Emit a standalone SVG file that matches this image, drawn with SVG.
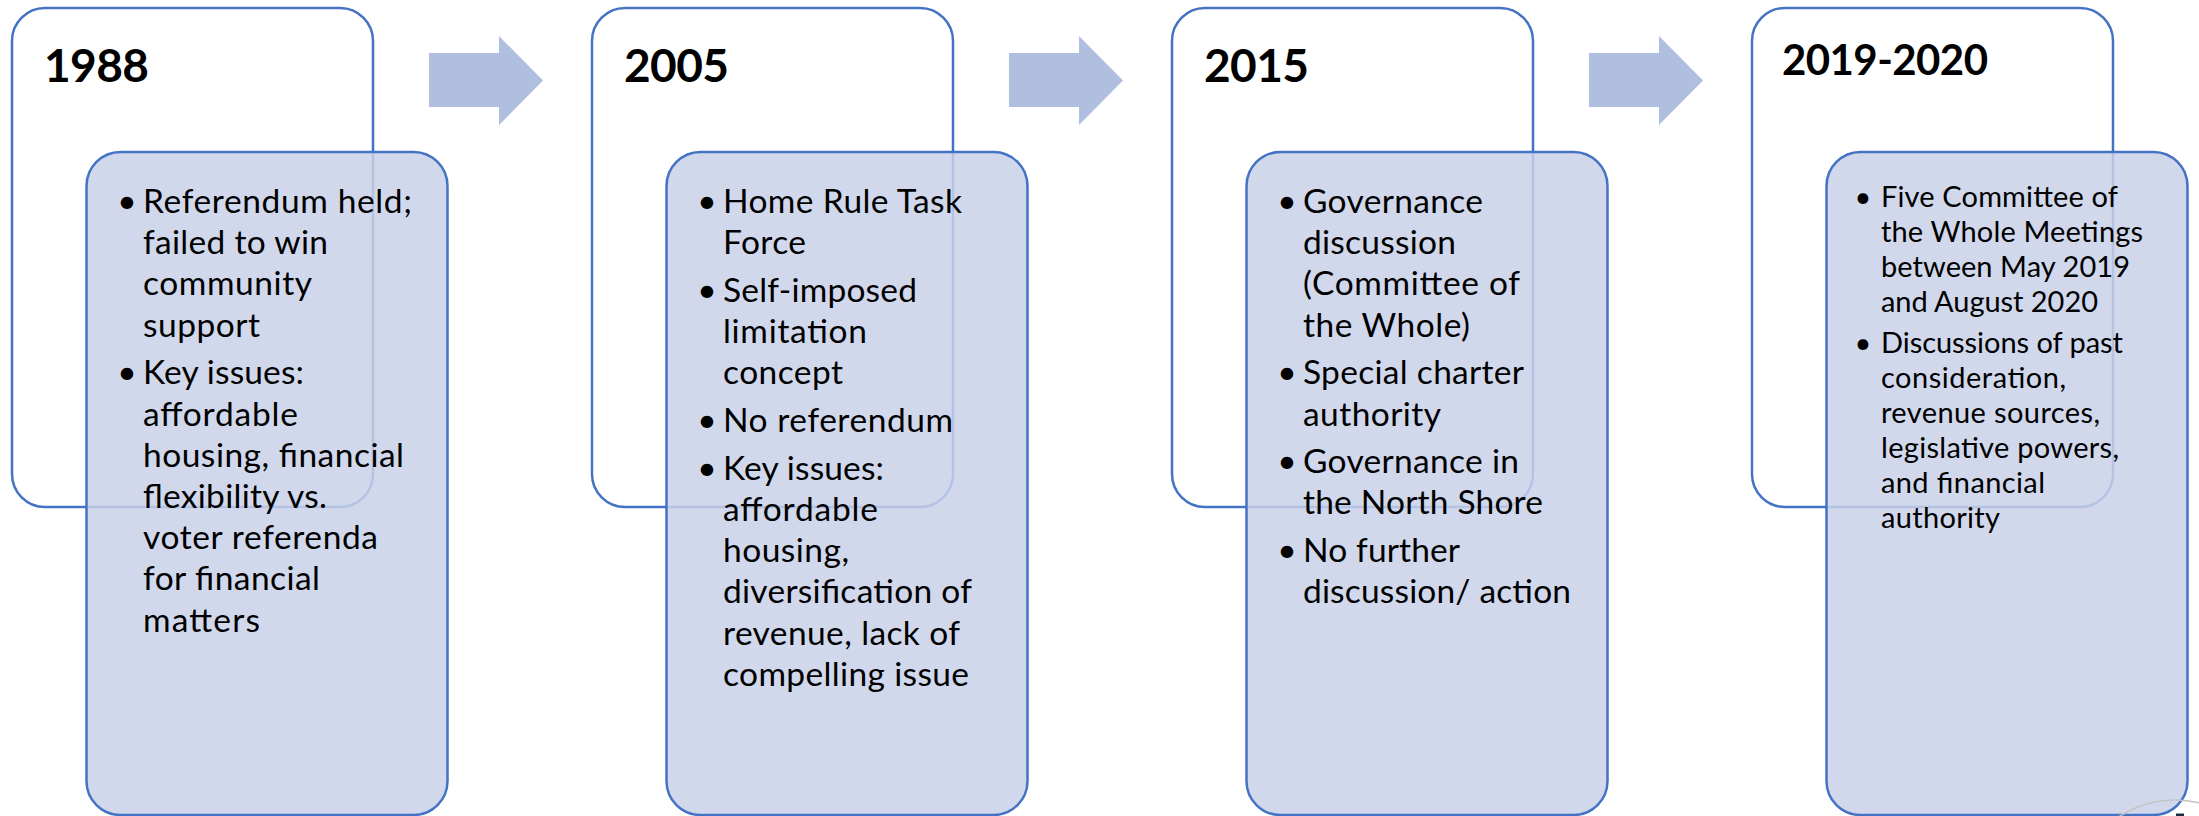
<svg xmlns="http://www.w3.org/2000/svg" width="2199" height="816" viewBox="0 0 2199 816">
  <style>
    .head { fill: #ffffff; stroke: #4472C4; stroke-width: 2.5; }
    .body { fill: #C9D1E9; fill-opacity: 0.85; stroke: #4472C4; stroke-width: 2.5; }
    .arrow { fill: #B0BEDF; }
    .title { font-family: Lato, "Liberation Sans", sans-serif; font-weight: 700; font-size: 46px; fill: #000000; }
    .title.small { font-size: 42px; }
    .txt { font-family: Lato, "Liberation Sans", sans-serif; font-size: 33.5px; fill: #000000; }
    .txt.small { font-size: 29px; }
    .dot { text-anchor: middle; }
  </style>

  <!-- Period 1 -->
  <g id="period-1988">
    <rect class="head" x="12" y="8" width="361" height="499" rx="33" ry="33"/>
    <text class="title" x="44" y="82" textLength="105">1988</text>
    <rect class="body" x="86.5" y="152" width="361" height="663" rx="34" ry="34"/>
    <g class="txt">
      <text class="dot" x="127" y="213">•</text>
      <text x="143" y="213" textLength="269">Referendum held;</text>
      <text x="143" y="254.2" textLength="185">failed to win</text>
      <text x="143" y="295.4" textLength="169">community</text>
      <text x="143" y="336.6" textLength="117">support</text>
      <text class="dot" x="127" y="384.3">•</text>
      <text x="143" y="384.3" textLength="161">Key issues:</text>
      <text x="143" y="425.5" textLength="155">affordable</text>
      <text x="143" y="466.7" textLength="261">housing, financial</text>
      <text x="143" y="507.9" textLength="184">flexibility vs.</text>
      <text x="143" y="549.1" textLength="235">voter referenda</text>
      <text x="143" y="590.3" textLength="177">for financial</text>
      <text x="143" y="631.5" textLength="117">matters</text>
    </g>
  </g>

  <!-- Period 2 -->
  <g id="period-2005">
    <rect class="head" x="592" y="8" width="361" height="499" rx="33" ry="33"/>
    <text class="title" x="624" y="82" textLength="105">2005</text>
    <rect class="body" x="666.5" y="152" width="361" height="663" rx="34" ry="34"/>
    <g class="txt">
      <text class="dot" x="707" y="213">•</text>
      <text x="723" y="213" textLength="239">Home Rule Task</text>
      <text x="723" y="254.2" textLength="83">Force</text>
      <text class="dot" x="707" y="301.9">•</text>
      <text x="723" y="301.9" textLength="194">Self-imposed</text>
      <text x="723" y="343.1" textLength="144">limitation</text>
      <text x="723" y="384.3" textLength="120">concept</text>
      <text class="dot" x="707" y="432">•</text>
      <text x="723" y="432" textLength="230">No referendum</text>
      <text class="dot" x="707" y="479.7">•</text>
      <text x="723" y="479.7" textLength="161">Key issues:</text>
      <text x="723" y="520.9" textLength="155">affordable</text>
      <text x="723" y="562.1" textLength="126">housing,</text>
      <text x="723" y="603.3" textLength="249">diversification of</text>
      <text x="723" y="644.5" textLength="237">revenue, lack of</text>
      <text x="723" y="685.7" textLength="246">compelling issue</text>
    </g>
  </g>

  <!-- Period 3 -->
  <g id="period-2015">
    <rect class="head" x="1172" y="8" width="361" height="499" rx="33" ry="33"/>
    <text class="title" x="1204" y="82" textLength="105">2015</text>
    <rect class="body" x="1246.5" y="152" width="361" height="663" rx="34" ry="34"/>
    <g class="txt">
      <text class="dot" x="1287" y="213">•</text>
      <text x="1303" y="213" textLength="180">Governance</text>
      <text x="1303" y="254.2" textLength="153">discussion</text>
      <text x="1303" y="295.4" textLength="217">(Committee of</text>
      <text x="1303" y="336.6" textLength="167">the Whole)</text>
      <text class="dot" x="1287" y="384.3">•</text>
      <text x="1303" y="384.3" textLength="221">Special charter</text>
      <text x="1303" y="425.5" textLength="138">authority</text>
      <text class="dot" x="1287" y="473.2">•</text>
      <text x="1303" y="473.2" textLength="216">Governance in</text>
      <text x="1303" y="514.4" textLength="240">the North Shore</text>
      <text class="dot" x="1287" y="562.1">•</text>
      <text x="1303" y="562.1" textLength="157">No further</text>
      <text x="1303" y="603.3" textLength="268">discussion/ action</text>
    </g>
  </g>

  <!-- Period 4 -->
  <g id="period-2019-2020">
    <rect class="head" x="1752" y="8" width="361" height="499" rx="33" ry="33"/>
    <text class="title small" x="1782" y="75" textLength="206">2019-2020</text>
    <rect class="body" x="1826.5" y="152" width="361" height="663" rx="34" ry="34"/>
    <g class="txt small">
      <text class="dot" x="1863" y="207">•</text>
      <text x="1881" y="207" textLength="237">Five Committee of</text>
      <text x="1881" y="242" textLength="262">the Whole Meetings</text>
      <text x="1881" y="277" textLength="249">between May 2019</text>
      <text x="1881" y="312" textLength="217">and August 2020</text>
      <text class="dot" x="1863" y="353">•</text>
      <text x="1881" y="353" textLength="242">Discussions of past</text>
      <text x="1881" y="388" textLength="185">consideration,</text>
      <text x="1881" y="423" textLength="219">revenue sources,</text>
      <text x="1881" y="458" textLength="238">legislative powers,</text>
      <text x="1881" y="493" textLength="164">and financial</text>
      <text x="1881" y="528" textLength="119">authority</text>
    </g>
  </g>

  <!-- Block arrows between periods -->
  <g id="connectors">
    <path class="arrow" d="M429 53 H499 V36 L543 80.5 L499 125 V107 H429 Z"/>
    <path class="arrow" d="M1009 53 H1079 V36 L1123 80.5 L1079 125 V107 H1009 Z"/>
    <path class="arrow" d="M1589 53 H1659 V36 L1703 80.5 L1659 125 V107 H1589 Z"/>
  </g>

  <!-- Corner edge of an off-canvas shape -->
  <g id="corner-fragment">
    <circle cx="2175" cy="902.5" r="102.5" fill="none" stroke="#C4C4C4" stroke-width="1.5"/>
    <rect x="2176" y="813.5" width="8" height="2.5" fill="#1F2A44"/>
  </g>
</svg>
